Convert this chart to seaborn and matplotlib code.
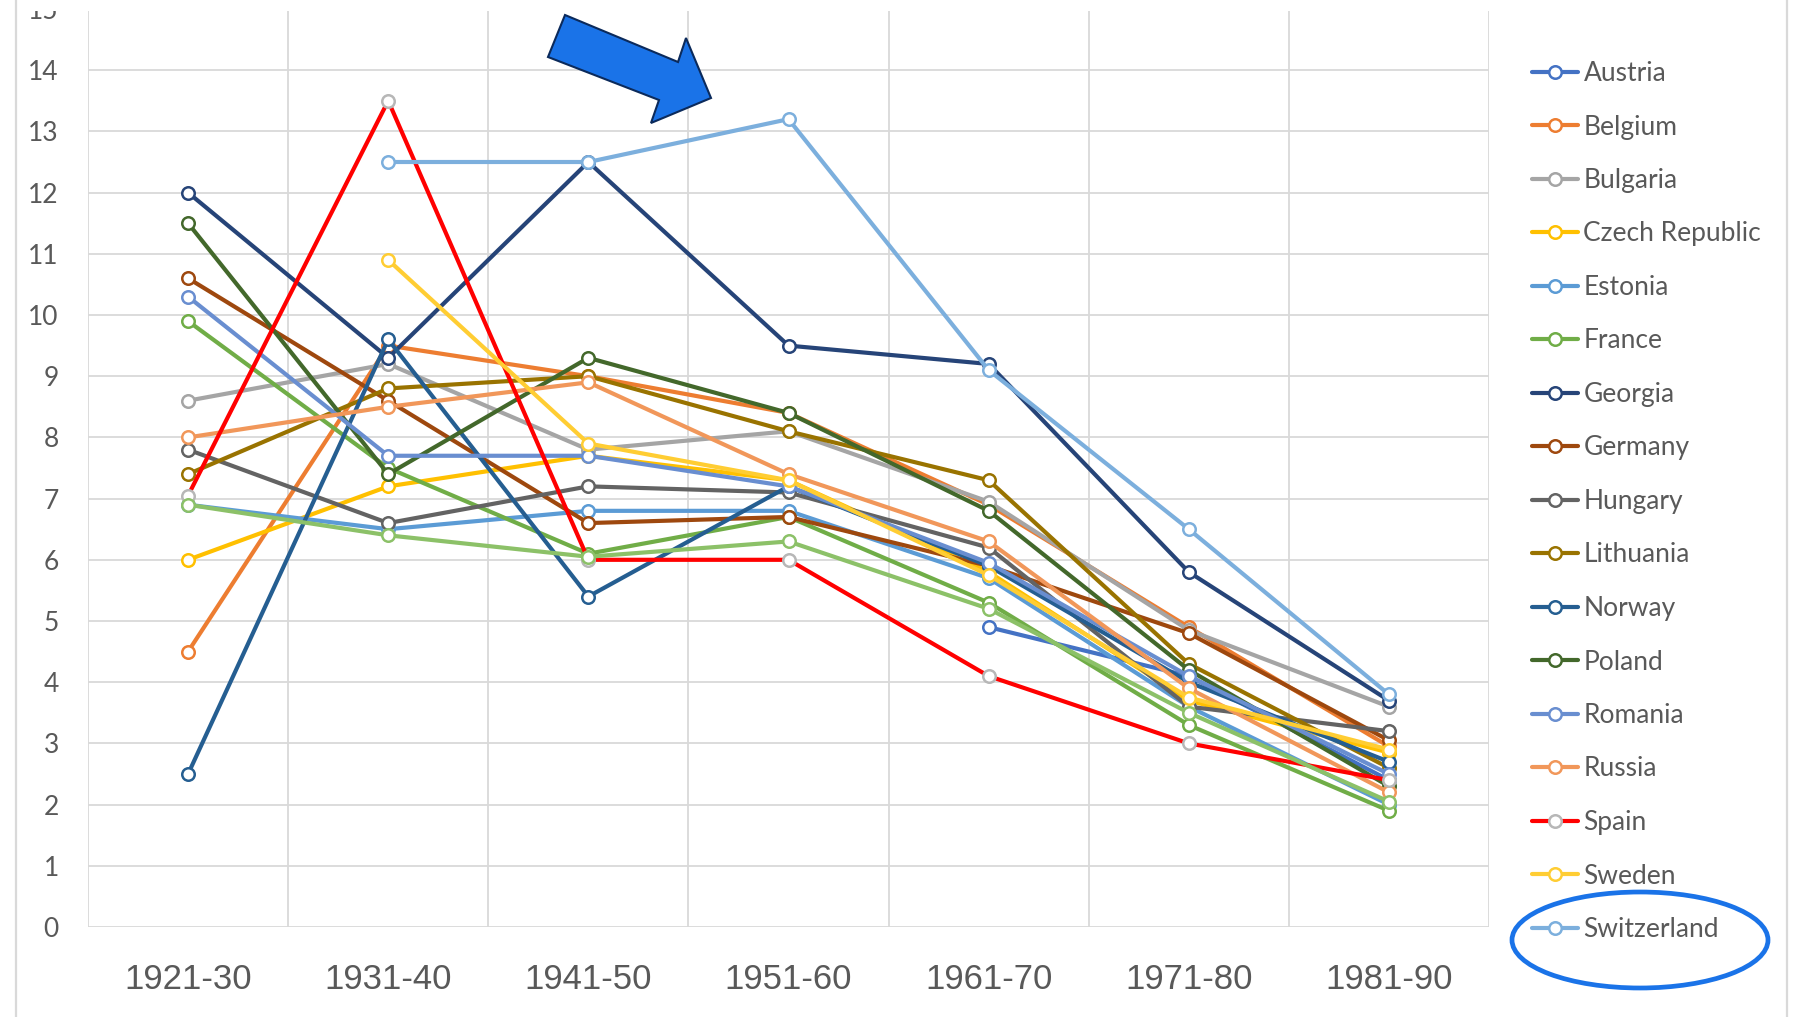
import numpy as np
import pandas as pd
import matplotlib
matplotlib.use("Agg")
import matplotlib.pyplot as plt
import seaborn as sns
from matplotlib.patches import Polygon, Ellipse, Rectangle
from matplotlib.lines import Line2D

nan = np.nan
periods = ["1921-30", "1931-40", "1941-50", "1951-60", "1961-70", "1971-80", "1981-90"]

austria = [nan, nan, nan, nan, 4.9, 4.1, 2.4]
belgium = [4.5, 9.5, 9.0, 8.4, 6.9, 4.9, 2.95]
bulgaria = [8.6, 9.2, 7.8, 8.1, 6.95, 4.85, 3.6]
czech_republic = [6.0, 7.2, 7.7, 7.3, 5.8, 3.7, 2.85]
estonia = [6.9, 6.5, 6.8, 6.8, 5.7, 3.6, 2.0]
france = [9.9, 7.5, 6.1, 6.7, 5.3, 3.3, 1.9]
georgia = [12.0, 9.3, 12.5, 9.5, 9.2, 5.8, 3.7]
germany = [10.6, 8.6, 6.6, 6.7, 5.9, 4.8, 3.05]
hungary = [7.8, 6.6, 7.2, 7.1, 6.2, 3.6, 3.2]
lithuania = [7.4, 8.8, 9.0, 8.1, 7.3, 4.3, 2.6]
norway = [2.5, 9.6, 5.4, 7.2, 5.9, 4.0, 2.7]
poland = [11.5, 7.4, 9.3, 8.4, 6.8, 4.2, 2.3]
romania = [10.3, 7.7, 7.7, 7.2, 5.95, 4.1, 2.5]
russia = [8.0, 8.5, 8.9, 7.4, 6.3, 3.9, 2.2]
spain = [7.05, 13.5, 6.0, 6.0, 4.1, 3.0, 2.4]
sweden = [nan, 10.9, 7.9, 7.3, 5.75, 3.75, 2.9]
switzerland = [nan, 12.5, 12.5, 13.2, 9.1, 6.5, 3.8]
unlabelled_series = [6.9, 6.4, 6.05, 6.3, 5.2, 3.5, 2.05]  # 18th series, no legend entry

countries = ["Austria", "Belgium", "Bulgaria", "Czech Republic", "Estonia", "France",
             "Georgia", "Germany", "Hungary", "Lithuania", "Norway", "Poland",
             "Romania", "Russia", "Spain", "Sweden", "Switzerland"]
values = [austria, belgium, bulgaria, czech_republic, estonia, france, georgia, germany,
          hungary, lithuania, norway, poland, romania, russia, spain, sweden, switzerland]
line_colors = ["#4472C4", "#ED7D31", "#A5A5A5", "#FFC000", "#5B9BD5", "#70AD47",
               "#264478", "#9E480E", "#636363", "#997300", "#255E91", "#43682B",
               "#698ED0", "#F1975A", "#FF0000", "#FFCD33", "#7CAFDD"]
marker_colors = list(line_colors)
marker_colors[14] = "#B7B7B7"  # Spain markers are grey
unlabelled_color = "#8CC168"

rows = []
for name, vals in zip(countries, values):
    for i, v in enumerate(vals):
        rows.append({"country": name, "pos": i, "value": v})
for i, v in enumerate(unlabelled_series):
    rows.append({"country": "_unlabelled", "pos": i, "value": v})
df = pd.DataFrame(rows).dropna()

W, H = 1793, 1017
sns.set_style("white")
plt.rcParams["font.family"] = ["Lato", "DejaVu Sans"]

fig = plt.figure(figsize=(W / 100, H / 100), dpi=100)
ax = fig.add_axes([88 / W, 1 - 927 / H, (1489 - 88) / W, (927 - 9) / H])

grid_c = "#D9D9D9"
for name, lc, mc in zip(countries + ["_unlabelled"], line_colors + [unlabelled_color],
                        marker_colors + [unlabelled_color]):
    sub = df[df["country"] == name]
    sns.lineplot(data=sub, x="pos", y="value", ax=ax, color=lc, linewidth=3.0,
                 marker="o", markersize=9, markerfacecolor="white",
                 markeredgecolor=mc, markeredgewidth=1.8,
                 label=name if not name.startswith("_") else "_nolegend_",
                 legend=False, zorder=3)

ax.set_xlim(-0.5, len(periods) - 0.5)
ax.set_ylim(0, 15)
ax.set_xticks(range(len(periods)))
ax.set_xticklabels(periods, fontfamily="Liberation Sans")
ax.set_yticks(range(0, 16))
ax.set_xlabel("")
ax.set_ylabel("")
for s in ax.spines.values():
    s.set_visible(False)
for yv in range(0, 16):
    ax.axhline(yv, color=grid_c, lw=1.3, zorder=1)
for xv in np.arange(-0.5, len(periods), 1.0):
    ax.axvline(xv, color=grid_c, lw=1.3, zorder=1)
ax.tick_params(axis="x", length=0, pad=26, labelsize=25, labelcolor="#595959")
ax.tick_params(axis="y", length=0, pad=21, labelsize=19, labelcolor="#595959")

handles, labels = ax.get_legend_handles_labels()
leg = fig.legend(handles, labels, loc="upper left",
                 bbox_to_anchor=(1532 / W, 1 - 61 / H), frameon=False,
                 fontsize=19, handlelength=1.75, handletextpad=0.2,
                 labelspacing=1.08, borderpad=0, borderaxespad=0, numpoints=1)
for t in leg.get_texts():
    t.set_color("#595959")

# top crop mask
fig.patches.append(Rectangle((0, 1 - 11 / H), 1, 11 / H, transform=fig.transFigure,
                             facecolor="white", edgecolor="none", zorder=20))
# chart area borders
fig.add_artist(Line2D([16 / W, 16 / W], [0, 1], color=grid_c, lw=1.6, zorder=21))
fig.add_artist(Line2D([1787 / W, 1787 / W], [0, 1], color=grid_c, lw=1.6, zorder=21))

# annotation arrow
pts = [(565, 15), (678, 62), (686, 38), (711, 98), (651, 123), (659, 100), (548, 57)]
fig.patches.append(Polygon([(x / W, 1 - y / H) for x, y in pts], closed=True,
                           transform=fig.transFigure, facecolor="#1A73E8",
                           edgecolor="#0B2A5B", lw=1.5, zorder=25))
# annotation ellipse around Switzerland
fig.patches.append(Ellipse((1640 / W, 1 - 940 / H), 256 / W, 96 / H,
                           transform=fig.transFigure, facecolor="none",
                           edgecolor="#1A73E8", lw=3.4, zorder=25))

fig.savefig("out.png", dpi=100, facecolor="white")
